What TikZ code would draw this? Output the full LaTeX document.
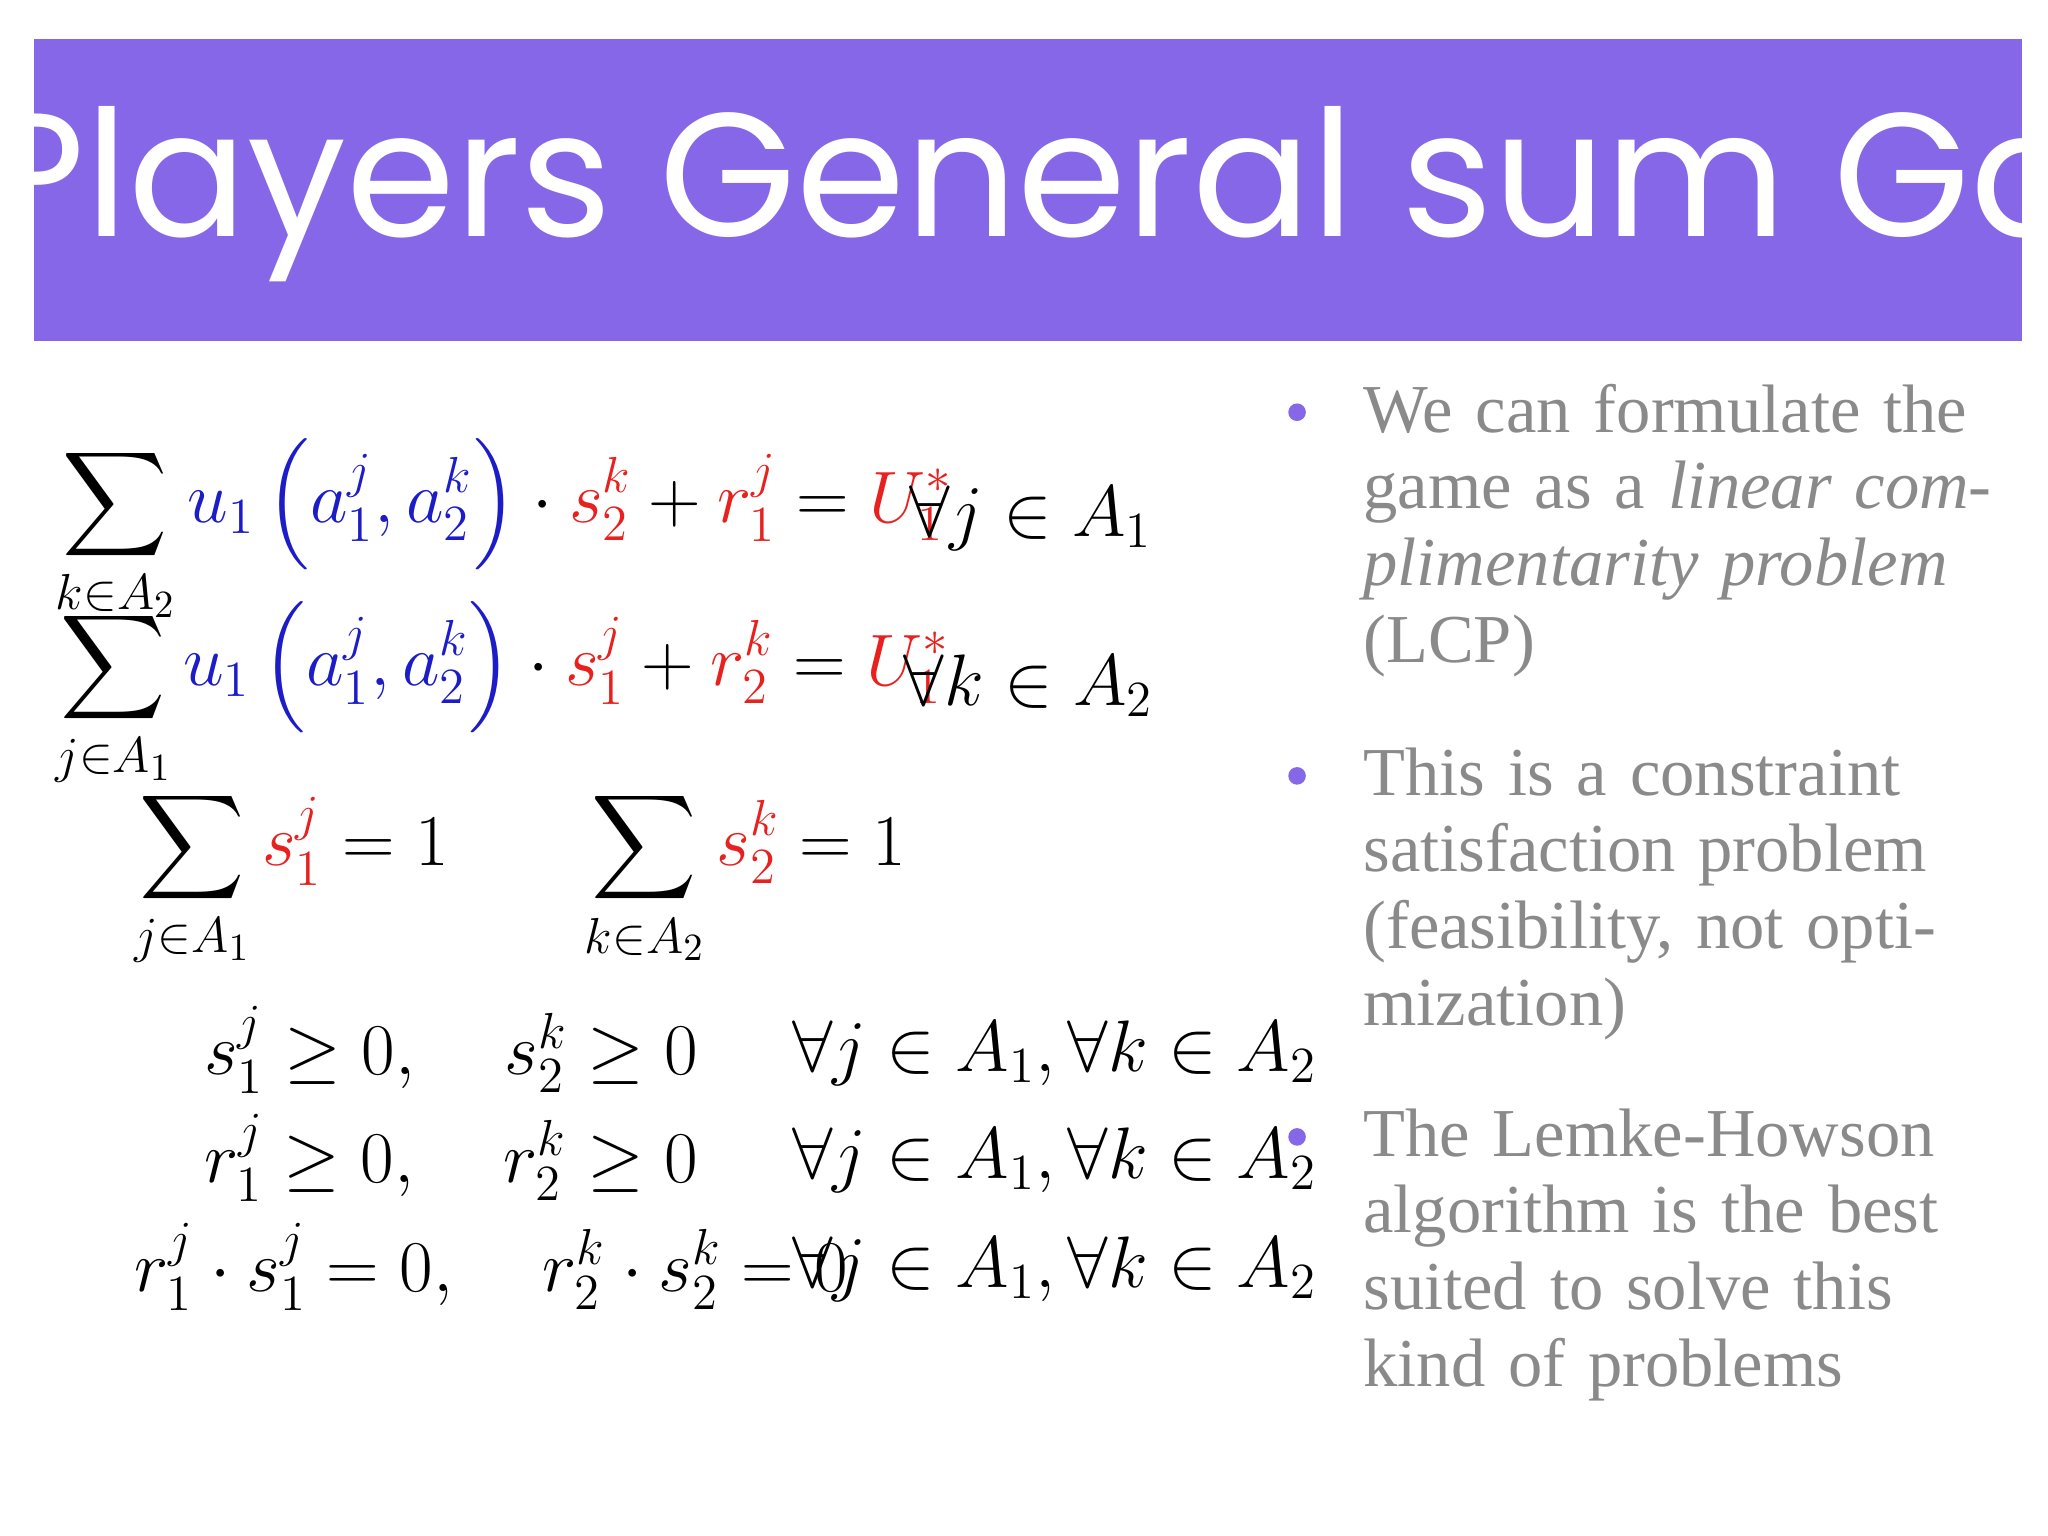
\documentclass[tikz,border=0pt]{standalone}
\usepackage{fontspec}
\usepackage{amsmath}
\newfontfamily\titlefont{Poppins}
\newfontfamily\bodyfont{Liberation Serif}
\definecolor{banner}{HTML}{8667E8}
\definecolor{gtext}{HTML}{8A8A8A}
\definecolor{mred}{HTML}{E8201E}
\definecolor{mblue}{HTML}{1C1CC8}
\newcommand{\R}[1]{{\color{mred}#1}}
\newcommand{\B}[1]{{\color{mblue}#1}}
\begin{document}
\begin{tikzpicture}[x=0.013128cm,y=-0.013128cm,
  eq/.style={anchor=west,inner sep=0pt,font=\fontsize{22}{26}\selectfont},
  btxt/.style={anchor=north west,inner sep=0pt,text width=6.6cm,align=left,text=gtext,font=\bodyfont\fontsize{19.5}{21.8}\selectfont},
  bul/.style={circle,fill=banner,inner sep=0pt,minimum size=5pt}]
\useasboundingbox (0,0) rectangle (1560,1170);
\fill[white] (0,0) rectangle (1560,1170);
\fill[banner] (26,30) rectangle (1540,260);
\node[text=white,font=\titlefont\fontsize{50}{50}\selectfont,inner sep=0pt] (title) at (783,148) {Two Players General sum Games};

\node[eq] (e1) at (42,405) {$\displaystyle\sum_{k\in A_2}\B{u_1\left(a_1^j,a_2^k\right)}\cdot \R{s_2^k}+\R{r_1^j}=\R{U_1^*}$};
\node[eq] (f1) at (692,395) {$\forall j\in A_1$};
\node[eq] (e2) at (42,530) {$\displaystyle\sum_{j\in A_1}\B{u_1\left(a_1^j,a_2^k\right)}\cdot \R{s_1^j}+\R{r_2^k}=\R{U_1^*}$};
\node[eq] (f2) at (688,522) {$\forall k\in A_2$};
\node[eq] (e3) at (102,670) {$\displaystyle\sum_{j\in A_1}\R{s_1^j}=1\quad\ \ \sum_{k\in A_2}\R{s_2^k}=1$};
\node[eq] (e4) at (155,800) {$s_1^j\ge 0,\quad s_2^k\ge 0$};
\node[eq] (e5) at (155,882) {$r_1^j\ge 0,\quad r_2^k\ge 0$};
\node[eq] (e6) at (102,965) {$r_1^j\cdot s_1^j=0,\quad r_2^k\cdot s_2^k=0$};
\node[eq] (f4) at (603,802) {$\forall j\in A_1,\forall k\in A_2$};
\node[eq] (f5) at (603,884) {$\forall j\in A_1,\forall k\in A_2$};
\node[eq] (f6) at (603,967) {$\forall j\in A_1,\forall k\in A_2$};

\node[bul] (b1) at (988,314) {};
\node[btxt] (t1) at (1038,292) {We can formulate the game as a \textit{linear complimentarity problem} (LCP)};
\node[bul] (b2) at (988,591) {};
\node[btxt] (t2) at (1038,569) {This is a constraint satisfaction problem (feasibility, not optimization)};
\node[bul] (b3) at (988,866) {};
\node[btxt] (t3) at (1038,844) {The Lemke-Howson algorithm is the best suited to solve this kind of problems};
\end{tikzpicture}
\end{document}
